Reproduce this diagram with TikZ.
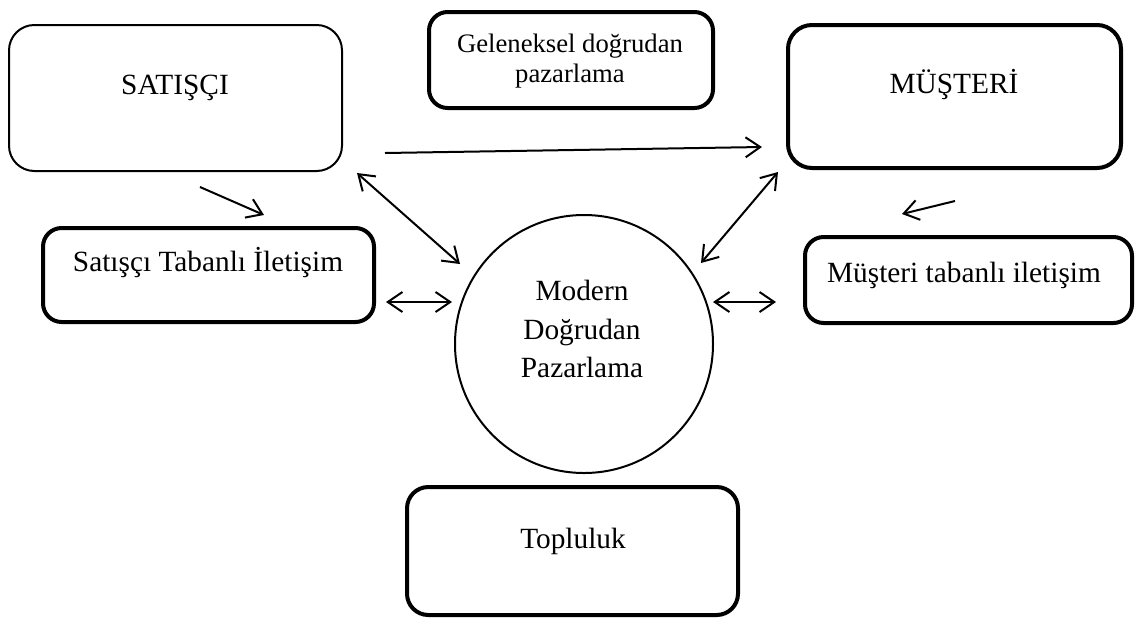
\documentclass[tikz,border=0pt]{standalone}
\usepackage{fontspec}
\setmainfont{Liberation Serif}
\usetikzlibrary{arrows.meta}
\begin{document}
\begin{tikzpicture}[x=0.75pt, y=-0.75pt,
  thinbox/.style={draw, line width=1.5pt, rounded corners=19pt, inner sep=0pt},
  thickbox/.style={draw, line width=3pt, rounded corners=14pt, inner sep=0pt},
  lbl/.style={font=\fontsize{22pt}{28.5pt}\selectfont, inner sep=0pt, anchor=base},
  conn/.style={line width=1.5pt, -{Straight Barb[length=11pt, width=15pt, line width=1.5pt]}},
  dconn/.style={line width=1.5pt, {Straight Barb[length=11pt, width=15pt, line width=1.5pt]}-{Straight Barb[length=11pt, width=15pt, line width=1.5pt]}}
]
\useasboundingbox (0,0) rectangle (1136,619);
% boxes
\node[thinbox, minimum width=249.75pt, minimum height=109.5pt] (sat) at (175.5,98) {};
\node[thickbox, minimum width=213pt, minimum height=72pt] (gel) at (571,60) {};
\node[thickbox, rounded corners=18pt, minimum width=249.75pt, minimum height=107.25pt] (mus) at (954.5,96.5) {};
\node[thickbox, minimum width=248.25pt, minimum height=70.5pt] (satt) at (208.5,275) {};
\node[thickbox, minimum width=245.25pt, minimum height=64.5pt] (must) at (968.5,280) {};
\node[draw, circle, line width=1.5pt, minimum size=193.5pt, inner sep=0pt] (mdp) at (584,344) {};
\node[thickbox, rounded corners=16pt, minimum width=248.25pt, minimum height=96pt] (top) at (572.5,551) {};
% texts
\node[lbl] (satl) at (175,94) {SATIŞÇI};
\node[lbl] (musl) at (954,93) {MÜŞTERİ};
\node[lbl] (sattl) at (208,271) {Satışçı Tabanlı İletişim};
\node[lbl] (mustl) at (964,282) {Müşteri tabanlı iletişim};
\node[lbl] (topl) at (573,548) {Topluluk};
\node[font=\fontsize{20pt}{22.5pt}\selectfont, inner sep=0pt, align=center] (gell) at (570,61) {Geleneksel doğrudan\\pazarlama};
\node[font=\fontsize{22pt}{29pt}\selectfont, inner sep=0pt, align=center] (mdpl) at (582,329) {Modern\\Doğrudan\\Pazarlama};
% connector end points
\coordinate (a1) at (385,153);
\coordinate (a2) at (762,147);
\coordinate (b1) at (200,187);
\coordinate (b2) at (264,215);
\coordinate (c1) at (357,173);
\coordinate (c2) at (460,264);
\coordinate (d1) at (701,263);
\coordinate (d2) at (778,172);
\coordinate (e1) at (955,201);
\coordinate (e2) at (902,214);
\coordinate (f1) at (386,302);
\coordinate (f2) at (452,302);
\coordinate (g1) at (713,302);
\coordinate (g2) at (776,302);
% connectors
\draw[conn] (a1) -- (a2);
\draw[conn] (b1) -- (b2);
\draw[dconn] (c1) -- (c2);
\draw[dconn] (d1) -- (d2);
\draw[conn] (e1) -- (e2);
\draw[dconn] (f1) -- (f2);
\draw[dconn] (g1) -- (g2);
\end{tikzpicture}
\end{document}
